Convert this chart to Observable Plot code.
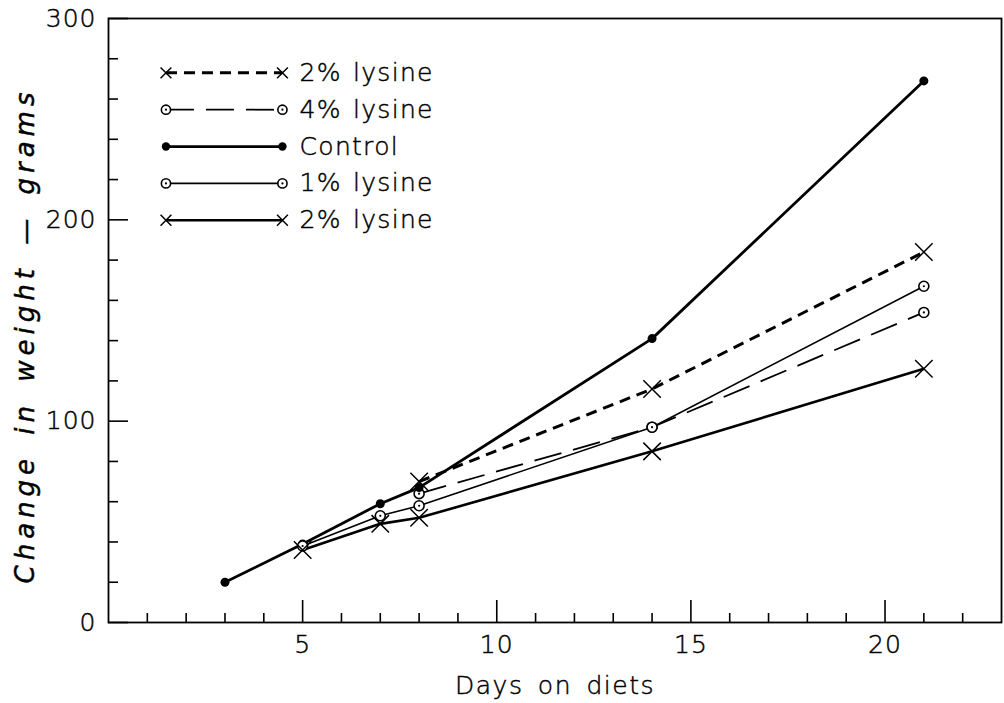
<!DOCTYPE html>
<html>
<head>
<meta charset="utf-8">
<script src="https://cdn.jsdelivr.net/npm/d3@7"></script>
<script src="https://cdn.jsdelivr.net/npm/@observablehq/plot@0.6"></script>
<style>
  html, body { margin: 0; padding: 0; background: #fff; }
  #chart svg { display: block; }
  /* thin, dark lettering */
  #chart svg text { font-weight: 300; fill: #000; stroke: #000; stroke-width: 0.45px; paint-order: stroke; }
</style>
</head>
<body>
<div id="chart"></div>
<script>
// Weight gain (grams) by days on each diet
const controlDays = [3, 5, 7, 8, 14, 21];
const controlGain = [20, 39, 59, 67, 141, 269];

const lysine1Days = [5, 7, 8, 14, 21];
const lysine1Gain = [38, 53, 58, 97, 167];

const lysine2Days = [5, 7, 8, 14, 21];
const lysine2Gain = [36, 49, 52, 85, 126];

const lysine2bDays = [8, 14, 21];
const lysine2bGain = [70, 116, 184];

const lysine4Days = [8, 14, 21];
const lysine4Gain = [64, 97, 154];

// Axis ticks
const xMajorTicks = [5, 10, 15, 20];
const xMinorTicks = [1, 2, 3, 4, 6, 7, 8, 9, 11, 12, 13, 14, 16, 17, 18, 19, 21, 22];
const yMajorTicks = [0, 100, 200, 300];
const yMinorTicks = [20, 40, 60, 80, 120, 140, 160, 180, 220, 240, 260, 280];

const xTitle = "Days on diets";
const yTitle = "Change in weight \u2014 grams";

const FONT = "DejaVu Sans, sans-serif";

// Series in legend order, with their drawing style
const series = [
  {name: "2% lysine", days: lysine2bDays, gain: lysine2bGain, marker: "cross", width: 3, dash: "11,7"},
  {name: "4% lysine", days: lysine4Days, gain: lysine4Gain, marker: "ring", width: 1.8, dash: "28,12"},
  {name: "Control", days: controlDays, gain: controlGain, marker: "disc", width: 2.8, dash: null},
  {name: "1% lysine", days: lysine1Days, gain: lysine1Gain, marker: "ring", width: 1.6, dash: null},
  {name: "2% lysine", days: lysine2Days, gain: lysine2Gain, marker: "cross", width: 2.6, dash: null}
];

function markerMarks(data, kind, x, y, big) {
  if (kind === "disc") {
    return [Plot.dot(data, {x, y, r: big ? 4.5 : 4.2, fill: "black", stroke: "none"})];
  }
  if (kind === "ring") {
    return [
      Plot.dot(data, {x, y, r: big ? 5 : 4.6, fill: "white", stroke: "black", strokeWidth: 1.6}),
      Plot.dot(data, {x, y, r: 1.1, fill: "black", stroke: "none"})
    ];
  }
  return [Plot.dot(data, {x, y, symbol: "times", r: big ? 8 : 5, stroke: "black", strokeWidth: 1.5})];
}

const lineMarks = [];
const pointMarks = [];
series.forEach(s => {
  const pts = s.days.map((d, i) => ({day: d, gain: s.gain[i]}));
  lineMarks.push(Plot.line(pts, {
    x: "day", y: "gain", stroke: "black", strokeWidth: s.width,
    strokeDasharray: s.dash ?? undefined, strokeLinecap: "butt"
  }));
  pointMarks.push(...markerMarks(pts, s.marker, "day", "gain", true));
});

// Legend block in the upper left of the plot area
const legendTop = 273, legendStep = 18.3;
const legendX1 = 1.48, legendX2 = 4.48, legendTextX = 4.92;
const legendMarks = [];
series.forEach((s, i) => {
  const row = [{x1: legendX1, x2: legendX2, y: legendTop - i * legendStep, label: s.name}];
  legendMarks.push(Plot.link(row, {
    x1: "x1", x2: "x2", y1: "y", y2: "y", stroke: "black", strokeWidth: s.width,
    strokeDasharray: s.dash ?? undefined
  }));
  legendMarks.push(...markerMarks(row, s.marker, "x1", "y", false));
  legendMarks.push(...markerMarks(row, s.marker, "x2", "y", false));
  legendMarks.push(Plot.text(row, {
    x: () => legendTextX, y: "y", text: "label", textAnchor: "start",
    fontSize: 25, fill: "black"
  }));
});

const chart = Plot.plot({
  width: 1004,
  height: 703,
  marginLeft: 108,
  marginRight: 3,
  marginTop: 18,
  marginBottom: 81,
  style: {fontFamily: FONT, fontSize: "25px", color: "black", background: "white"},
  x: {domain: [0, 23]},
  y: {domain: [0, 300]},
  marks: [
    Plot.frame({stroke: "black", strokeWidth: 1.8}),
    // inward ticks
    Plot.axisX(xMajorTicks, {tickSize: -22, fill: "none", label: null, strokeWidth: 1.6}),
    Plot.axisX(xMinorTicks, {tickSize: -9, fill: "none", label: null, strokeWidth: 1.6}),
    Plot.axisY(yMajorTicks, {tickSize: -20, fill: "none", label: null, strokeWidth: 1.6}),
    Plot.axisY(yMinorTicks, {tickSize: -10, fill: "none", label: null, strokeWidth: 1.6}),
    // tick labels
    Plot.axisX(xMajorTicks, {tickSize: 0, tickPadding: 13, label: null, fontSize: 25, stroke: "none"}),
    Plot.axisY(yMajorTicks, {tickSize: 0, tickPadding: 12, label: null, fontSize: 25, stroke: "none"}),
    // axis titles
    Plot.text([xTitle], {
      frameAnchor: "bottom", dy: 71, textAnchor: "middle", fontSize: 25, fill: "black"
    }),
    Plot.text([yTitle], {
      frameAnchor: "left", dx: -83, dy: 15, rotate: -90, textAnchor: "middle",
      fontSize: 26, fontStyle: "italic", fill: "black"
    }),
    ...lineMarks,
    ...pointMarks,
    ...legendMarks
  ]
});

// Wide, hand-lettered spacing for the labels
const legendNames = new Set(series.map(s => s.name));
d3.select(chart).selectAll("text").each(function() {
  const t = this.textContent;
  const sel = d3.select(this);
  if (t === yTitle) sel.style("letter-spacing", "5px").style("word-spacing", "6px");
  else if (t === xTitle) sel.style("letter-spacing", "1.5px").style("word-spacing", "5px");
  else if (legendNames.has(t)) sel.style("letter-spacing", "1.3px").style("word-spacing", "2px");
  else if (/^\d+$/.test(t)) sel.style("letter-spacing", "1px");
});

document.getElementById("chart").appendChild(chart);
</script>
</body>
</html>
